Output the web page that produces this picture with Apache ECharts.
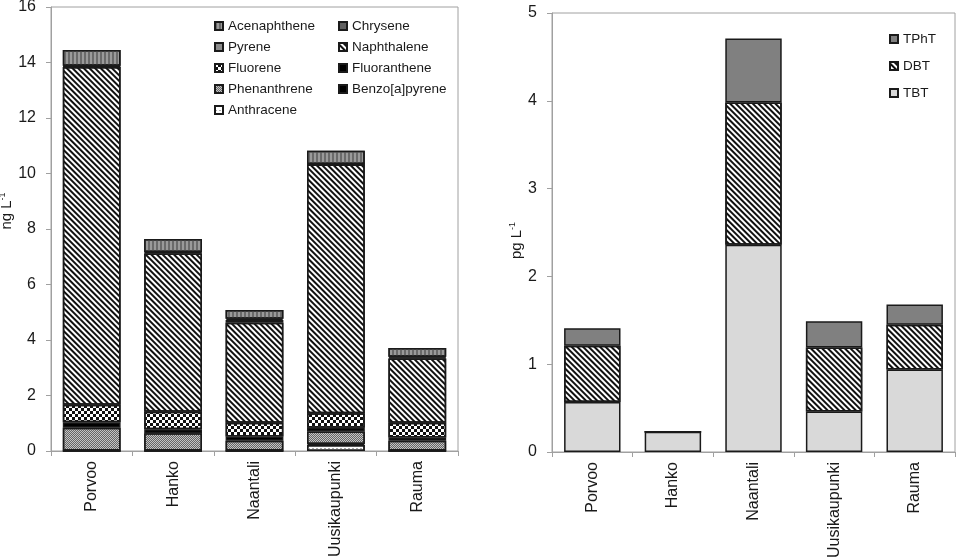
<!DOCTYPE html>
<html><head><meta charset="utf-8">
<script src="https://cdn.jsdelivr.net/npm/echarts@6/dist/echarts.min.js"></script>
<style>html,body{margin:0;padding:0;background:#fff}#c{width:957px;height:558px}</style>
</head><body><div id="c"></div>
<script>
const sites = ['Porvoo','Hanko','Naantali','Uusikaupunki','Rauma'];
// Left chart (ng L-1), stacked bottom to top
const anthracene    = [0, 0, 0, 0.22, 0];
const benzoApyrene  = [0.02, 0.02, 0.02, 0.03, 0.02];
const phenanthrene  = [0.82, 0.62, 0.35, 0.45, 0.35];
const fluoranthene  = [0.20, 0.14, 0.15, 0.14, 0.12];
const fluorene      = [0.63, 0.63, 0.50, 0.52, 0.53];
const naphthalene   = [12.17, 5.71, 3.60, 8.96, 2.31];
const pyrene        = [0.02, 0.03, 0.10, 0.01, 0.04];
const chrysene      = [0.02, 0.02, 0.05, 0.01, 0.03];
const acenaphthene  = [0.57, 0.47, 0.31, 0.48, 0.31];
// Right chart (pg L-1)
const tbt  = [0.57, 0.23, 2.36, 0.46, 0.94];
const dbt  = [0.64, 0, 1.62, 0.73, 0.51];
const tpht = [0.20, 0, 0.73, 0.30, 0.23];
const leftTicks = {min:0, max:16, interval:2};
const rightTicks = {min:0, max:5, interval:1};

const FONT = 'Liberation Sans, Arial, sans-serif';
const border = {borderColor:'#1a1a1a', borderWidth:1.5};
const diag = (w, gap) => ({symbol:'rect', symbolSize:1, color:'#111', dashArrayX:[1,0], dashArrayY:[w,gap], rotation:Math.PI/4});
const styles = {
  Anthracene:{color:'#ffffff', decal:{symbol:'rect', symbolSize:1, color:'#aaa', dashArrayX:[2,2], dashArrayY:[1,3]}},
  'Benzo[a]pyrene':{color:'#000000'},
  Phenanthrene:{color:'#c4c4c4', decal:{symbol:'rect', symbolSize:1, color:'#666', dashArrayX:[[1,1],[0,1,1,0]], dashArrayY:[1,0]}},
  Fluoranthene:{color:'#000000'},
  Fluorene:{color:'#ffffff', decal:{symbol:'rect', symbolSize:1, color:'#111', dashArrayX:[[2.5,2.5],[0,2.5,2.5,0]], dashArrayY:[2.5,0]}},
  Naphthalene:{color:'#ffffff', decal:diag(1.3, 1.5)},
  Pyrene:{color:'#8c8c8c'},
  Chrysene:{color:'#5f5f5f'},
  Acenaphthene:{color:'#9a9a9a', decal:{symbol:'rect', symbolSize:1, color:'#6a6a6a', dashArrayX:[1.5,1.5], dashArrayY:[1,0]}}
};
const leftSeriesData = [
  ['Anthracene', anthracene], ['Benzo[a]pyrene', benzoApyrene], ['Phenanthrene', phenanthrene],
  ['Fluoranthene', fluoranthene], ['Fluorene', fluorene], ['Naphthalene', naphthalene],
  ['Pyrene', pyrene], ['Chrysene', chrysene], ['Acenaphthene', acenaphthene]
];
const rightStyles = {
  TBT:{color:'#d9d9d9'},
  DBT:{color:'#ffffff', decal:diag(1.2, 1.9)},
  TPhT:{color:'#808080'}
};
const rightSeriesData = [['TBT', tbt], ['DBT', dbt], ['TPhT', tpht]];

const series = [];
leftSeriesData.forEach(([n, d]) => series.push({
  name:n, type:'bar', stack:'L', xAxisIndex:0, yAxisIndex:0, data:d, barCategoryGap:'29%',
  itemStyle:Object.assign({}, styles[n], border)
}));
rightSeriesData.forEach(([n, d]) => series.push({
  name:n, type:'bar', stack:'R', xAxisIndex:1, yAxisIndex:1, data:d, barCategoryGap:'30%',
  itemStyle:Object.assign({}, rightStyles[n], border)
}));

const axisLine = {show:true, lineStyle:{color:'#a0a0a0', width:1}};
const xAxisBase = (gi) => ({
  type:'category', gridIndex:gi, data:sites, axisLine, axisTick:{show:true, length:5, lineStyle:{color:'#a0a0a0'}},
  axisLabel:{rotate:90, fontFamily:FONT, fontSize:16, color:'#1a1a1a', margin:10}
});
const yAxisBase = (gi, t, name, gap, pad) => ({
  type:'value', gridIndex:gi, min:t.min, max:t.max, interval:t.interval,
  axisLine, axisTick:{show:true, length:5, lineStyle:{color:'#a0a0a0'}}, splitLine:{show:false},
  axisLabel:{fontFamily:FONT, fontSize:16, color:'#1a1a1a', margin:15},
  name:name, nameLocation:'middle', nameGap:gap, nameRotate:90,
  nameTextStyle:{fontFamily:FONT, fontSize:15, color:'#1a1a1a', padding:pad,
    rich:{a:{fontFamily:FONT, fontSize:15, color:'#1a1a1a'}, s:{fontFamily:FONT, fontSize:9, color:'#1a1a1a', padding:[0,0,9,0]}}}
});
const legendText = {fontFamily:FONT, fontSize:13.5, color:'#1a1a1a'};
const legendBase = {orient:'vertical', itemWidth:8, itemHeight:8, icon:'rect', textStyle:legendText, selectedMode:false, padding:0};

const chart = echarts.init(document.getElementById('c'), null, {renderer:'canvas'});
chart.setOption({
  animation:false,
  backgroundColor:'#fff',
  grid:[
    {left:51, right:499, top:7, bottom:107, show:true, borderColor:'#a0a0a0', borderWidth:1, containLabel:false, outerBoundsMode:'none'},
    {left:552, right:2, top:13, bottom:106, show:true, borderColor:'#a0a0a0', borderWidth:1, containLabel:false, outerBoundsMode:'none'}
  ],
  xAxis:[xAxisBase(0), xAxisBase(1)],
  yAxis:[
    yAxisBase(0, leftTicks, '{a|ng L}{s|-1}', 29, [0,0,0,36]),
    yAxisBase(1, rightTicks, '{a|pg L}{s|-1}', 23, [0,16,0,0])
  ],
  legend:[
    Object.assign({}, legendBase, {left:214, top:19, itemGap:7, data:['Acenaphthene','Pyrene','Fluorene','Phenanthrene','Anthracene']}),
    Object.assign({}, legendBase, {left:338, top:19, itemGap:7, data:['Chrysene','Naphthalene','Fluoranthene','Benzo[a]pyrene']}),
    Object.assign({}, legendBase, {left:889, top:32, itemGap:13, data:['TPhT','DBT','TBT']})
  ],
  series
});
</script>
</body></html>
